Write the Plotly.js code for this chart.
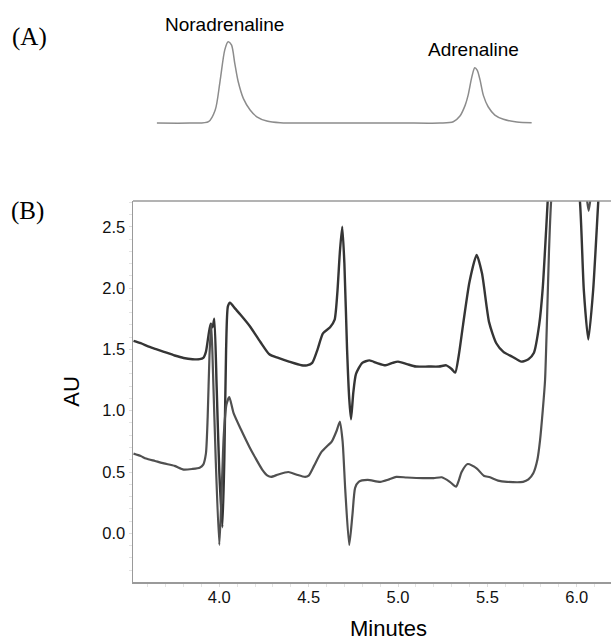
<!DOCTYPE html>
<html>
<head>
<meta charset="utf-8">
<script src="https://cdn.plot.ly/plotly-3.0.1.min.js"></script>
<style>html,body{margin:0;padding:0;background:#fff;}#chart{width:611px;height:641px;}</style>
</head>
<body>
<div id="chart"></div>
<script>
// Panel (A): standard chromatogram (arbitrary time / response units)
const stdTime = [0.50,1.19,1.58,1.72,1.82,1.92,1.99,2.06,2.13,2.20,2.31,2.45,2.59,2.80,3.08,3.91,5.59,6.42,6.70,6.84,6.95,7.01,7.09,7.15,7.20,7.26,7.33,7.43,7.57,7.75,8.03,8.34];
const stdSignal = [0,0,0.016,0.16,0.51,0.90,1.00,0.96,0.73,0.51,0.30,0.16,0.077,0.025,0.004,0,0,0,0.016,0.086,0.22,0.34,0.57,0.68,0.65,0.53,0.34,0.20,0.098,0.046,0.012,0.004];
const peakNames = ["Noradrenaline", "Adrenaline"];
const peakTimes = [1.92, 7.12];

// Panel (B): sample chromatograms (minutes vs AU)
const upperMin = [3.52,3.56,3.61,3.65,3.69,3.75,3.80,3.85,3.89,3.91,3.925,3.94,3.952,3.962,3.972,3.985,4.000,4.017,4.028,4.038,4.048,4.060,4.09,4.12,4.17,4.23,4.28,4.33,4.39,4.46,4.49,4.52,4.55,4.58,4.62,4.645,4.66,4.675,4.688,4.70,4.715,4.727,4.737,4.75,4.765,4.80,4.84,4.88,4.93,4.97,5.00,5.05,5.10,5.17,5.23,5.27,5.30,5.32,5.34,5.365,5.40,5.44,5.47,5.51,5.55,5.59,5.64,5.69,5.73,5.76,5.79,5.81,5.83,5.845,5.87,5.95,6.018,6.04,6.065,6.092,6.121,6.15,6.19];
const upperAU = [1.57,1.55,1.52,1.50,1.48,1.45,1.43,1.42,1.42,1.43,1.48,1.62,1.71,1.68,1.75,1.2,0.5,0.05,0.6,1.5,1.85,1.88,1.83,1.78,1.69,1.56,1.46,1.43,1.40,1.37,1.37,1.39,1.50,1.63,1.68,1.74,1.95,2.3,2.50,2.2,1.5,1.1,0.93,1.15,1.30,1.39,1.41,1.39,1.37,1.39,1.40,1.38,1.36,1.36,1.36,1.37,1.34,1.31,1.45,1.71,2.05,2.27,2.12,1.72,1.55,1.48,1.44,1.40,1.42,1.47,1.70,2.0,2.5,2.9,3.4,3.6,2.71,1.98,1.58,1.98,2.71,3.4,3.6];
const lowerMin = [3.52,3.56,3.59,3.64,3.69,3.75,3.80,3.85,3.89,3.91,3.925,3.935,3.945,3.955,3.965,3.98,4.000,4.012,4.025,4.040,4.056,4.08,4.12,4.17,4.20,4.24,4.27,4.29,4.33,4.386,4.43,4.48,4.50,4.53,4.57,4.61,4.63,4.655,4.675,4.69,4.705,4.727,4.745,4.76,4.78,4.83,4.90,4.95,4.99,5.05,5.14,5.20,5.245,5.29,5.325,5.34,5.356,5.39,5.44,5.48,5.515,5.56,5.61,5.70,5.73,5.757,5.78,5.795,5.81,5.823,5.835,5.845,5.857,5.90,6.00,6.055,6.067,6.079,6.12,6.19];
const lowerAU = [0.65,0.63,0.61,0.59,0.57,0.55,0.52,0.525,0.535,0.56,0.65,0.95,1.45,1.71,1.3,0.6,-0.095,0.3,0.8,1.05,1.11,0.98,0.85,0.70,0.62,0.52,0.47,0.46,0.48,0.50,0.48,0.46,0.47,0.55,0.66,0.72,0.75,0.83,0.91,0.75,0.35,-0.095,0.15,0.37,0.42,0.435,0.42,0.44,0.46,0.455,0.45,0.45,0.457,0.42,0.38,0.43,0.50,0.565,0.53,0.47,0.457,0.43,0.42,0.42,0.44,0.49,0.6,0.76,1.0,1.25,1.8,2.3,2.71,3.4,3.4,2.75,2.63,2.75,3.4,3.5];
const xTicks = [4.0, 4.5, 5.0, 5.5, 6.0];
const yTicks = [0.0, 0.5, 1.0, 1.5, 2.0, 2.5];

const SANS = "Liberation Sans, Arial, sans-serif";
const SERIF = "Liberation Serif, Times New Roman, serif";

const traces = [
  {x: stdTime, y: stdSignal, xaxis: "x2", yaxis: "y2", type: "scatter", mode: "lines",
   line: {color: "#8c8c8c", width: 1.5, shape: "spline", smoothing: 0.8}, hoverinfo: "skip"},
  {x: upperMin, y: upperAU, type: "scatter", mode: "lines",
   line: {color: "#353535", width: 2.4, shape: "spline", smoothing: 0.6}},
  {x: lowerMin, y: lowerAU, type: "scatter", mode: "lines",
   line: {color: "#505050", width: 2.2, shape: "spline", smoothing: 0.6}}
];

const annotations = [
  {text: "(A)", xref: "paper", yref: "paper", x: -0.2155, y: 0.9528, showarrow: false,
   font: {family: SERIF, size: 25, color: "#000"}, xanchor: "center", yanchor: "middle"},
  {text: "(B)", xref: "paper", yref: "paper", x: -0.2207, y: 0.6486, showarrow: false,
   font: {family: SERIF, size: 25, color: "#000"}, xanchor: "center", yanchor: "middle"},
  {text: "Minutes", xref: "paper", yref: "paper", x: 0.5335, y: -0.082, showarrow: false,
   font: {family: SANS, size: 22, color: "#000"}, xanchor: "center", yanchor: "middle"}
];
annotations.push({text: peakNames[0], xref: "x2", yref: "paper", x: peakTimes[0], y: 0.9738,
  showarrow: false, font: {family: SANS, size: 19, color: "#000"}, xanchor: "center", yanchor: "middle"});
annotations.push({text: peakNames[1], xref: "x2", yref: "paper", x: peakTimes[1], y: 0.9313,
  showarrow: false, font: {family: SANS, size: 19, color: "#000"}, xanchor: "center", yanchor: "middle"});

const layout = {
  width: 611, height: 641,
  margin: {l: 133, r: 0, t: 10, b: 59},
  paper_bgcolor: "#fff", plot_bgcolor: "#fff",
  showlegend: false,
  xaxis: {
    domain: [0, 1], anchor: "y", range: [3.517, 6.192],
    tickvals: xTicks, tickformat: ".1f",
    showgrid: false, zeroline: false, showline: true, linecolor: "#9a9a9a", linewidth: 1.5,
    ticks: "outside", ticklen: 3, tickcolor: "#dddddd", ticklabelstandoff: -3,
    minor: {dtick: 0.1, ticks: "outside", ticklen: 3, tickcolor: "#e3e3e3", showgrid: false},
    tickfont: {family: SANS, size: 16.5, color: "#111"}
  },
  yaxis: {
    domain: [0, 0.6661], anchor: "x", range: [-0.397, 2.71],
    tickvals: yTicks, tickformat: ".1f",
    showgrid: false, zeroline: false, showline: true, linecolor: "#9a9a9a", linewidth: 1.5,
    ticks: "outside", ticklen: 3, tickcolor: "#dddddd",
    minor: {dtick: 0.1, ticks: "outside", ticklen: 3, tickcolor: "#e3e3e3", showgrid: false},
    tickfont: {family: SANS, size: 16.5, color: "#111"},
    title: {text: "AU", font: {family: SANS, size: 22, color: "#000"}, standoff: 16}
  },
  xaxis2: {domain: [0, 1], anchor: "y2", range: [0, 10], visible: false},
  yaxis2: {domain: [0.7953, 0.9517], anchor: "x2", range: [-0.05, 1.05], visible: false},
  shapes: [
    {type: "line", xref: "x domain", yref: "y domain", x0: 0, x1: 1, y0: 1, y1: 1,
     line: {color: "#9a9a9a", width: 1.5}}
  ],
  annotations: annotations
};

Plotly.newPlot("chart", traces, layout, {displayModeBar: false, staticPlot: true});
</script>
</body>
</html>
